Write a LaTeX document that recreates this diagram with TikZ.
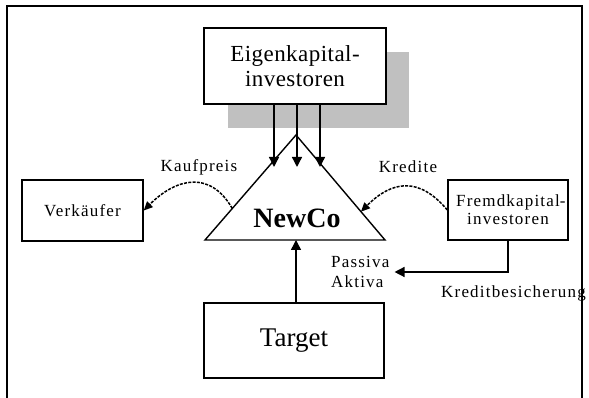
\documentclass[tikz,border=0pt]{standalone}
\usepackage{fontspec}
\setmainfont{Liberation Serif}
\newfontfamily\lblfont[LetterSpace=7]{Liberation Serif}
\newfontfamily\boxfont[LetterSpace=2]{Liberation Serif}
\usetikzlibrary{arrows.meta,calc}
\definecolor{shadowgray}{RGB}{192,192,192}

\begin{document}
\begin{tikzpicture}[x=1pt, y=1pt,
  box/.style={draw, line width=1.4pt, fill=white, align=center, inner sep=0pt},
  lbl/.style={font=\lblfont\fontsize{17}{18}\selectfont, inner sep=0pt},
  arr/.style={line width=1.4pt, -{Triangle[length=10pt,width=10pt]}},
  darr/.style={line width=1.5pt, dash pattern=on 3pt off 1.3pt, -{Triangle[length=9pt,width=8pt]}}]
\useasboundingbox (0,0) rectangle (589,398);
\draw[line width=1.8pt] (7,-20) rectangle (582,392); % frame, open at the bottom

% equity side
\fill[shadowgray] (228,270) rectangle (409,346);
\node[box, minimum width=182pt, minimum height=76pt, font=\boxfont\fontsize{23}{25}\selectfont] (eigen) at (295,332) {Eigenkapital-\\investoren};

% NewCo
\coordinate (apex) at (296,263);
\coordinate (bl) at (205,158);
\coordinate (br) at (385,158);
\draw[line width=1.4pt] (apex) -- (bl) -- (br) -- cycle;
\node[font=\bfseries\fontsize{28}{30}\selectfont] (newco) at (297,180) {NewCo};

\coordinate (tips) at (0,231);
\foreach \dx in {-21,2,25}
  \draw[arr] ([xshift=\dx pt]eigen.south) -- ([xshift=\dx pt]eigen.south |- tips);

% seller, lenders, target
\node[box, lbl, minimum width=121pt, minimum height=61pt] (verk) at (82.5,187.5) {Verkäufer};
\node[box, lbl, minimum width=120pt, minimum height=60pt] (fremd) at (508,188) {Fremdkapital\rlap{-}\\investoren};
\node[box, minimum width=180pt, minimum height=75pt, font=\fontsize{27}{30}\selectfont] (target) at (294,57.5) {Target};
\draw[arr] ([xshift=2pt]target.north) -- ([xshift=2pt]target.north |- bl);

% labels
\node[lbl] (kauf) at (199,231) {Kaufpreis};
\node[lbl] (kred) at (408,231) {Kredite};
\node[lbl, align=left, anchor=west, font=\lblfont\fontsize{17}{20}\selectfont] (bilanz) at (331,126) {Passiva\\Aktiva};
\node[lbl, anchor=west] (sicher) at (441,105) {Kreditbesicherung};

\draw[darr] ($(apex)!0.7!(bl)$) to[out=120, in=45, looseness=1.3] (verk.east);
\draw[darr] (fremd.west) to[out=130, in=45, looseness=1.3] ($(apex)!0.73!(br)$);
\draw[arr] (fremd.south) |- ([xshift=5pt]bilanz.east);
\end{tikzpicture}
\end{document}
